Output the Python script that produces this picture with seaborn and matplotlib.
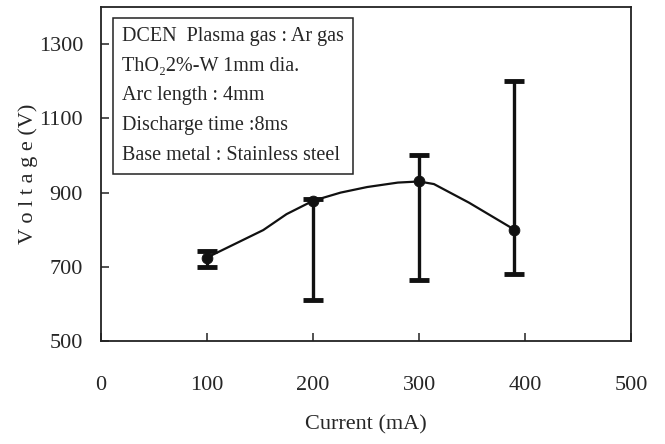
import matplotlib
matplotlib.use('Agg')
import matplotlib.pyplot as plt
import seaborn as sns
import pandas as pd

# 측정점 (평균, 최소, 최대)
current = [100, 200, 300, 390]
voltage = [725, 878, 930, 800]
v_low = [700, 610, 665, 680]
v_high = [742, 882, 1000, 1200]

# 곡선 (그림에서 읽은 평활선)
curve_x = [100, 153, 175, 200, 226, 251, 280, 300, 314, 347, 390]
curve_y = [725, 799, 842, 878, 900, 915, 927, 930, 923, 873, 800]

x_ticks = [0, 100, 200, 300, 400, 500]
y_ticks = [500, 700, 900, 1100, 1300]

notes = ['DCEN  Plasma gas : Ar gas',
         'ThO\u20822%-W 1mm dia.',
         'Arc length : 4mm',
         'Discharge time :8ms',
         'Base metal : Stainless steel']

sns.set_style('ticks')
plt.rcParams['font.family'] = ['Liberation Serif', 'DejaVu Serif']

df_pts = pd.DataFrame({'current': current, 'voltage': voltage})
df_curve = pd.DataFrame({'current': curve_x, 'voltage': curve_y})

fig = plt.figure(figsize=(6.65, 4.44), dpi=100)
ax = fig.add_axes([0.152, 0.232, 0.797, 0.752])

sns.lineplot(data=df_curve, x='current', y='voltage', color='#111111',
             lw=1.6, sort=False, ax=ax)

yerr = [[v - lo for v, lo in zip(voltage, v_low)],
        [hi - v for v, hi in zip(voltage, v_high)]]
ax.errorbar(current, voltage, yerr=yerr, fmt='none', ecolor='#111111',
            elinewidth=2.4, capsize=7, capthick=3.5)
sns.scatterplot(data=df_pts, x='current', y='voltage', color='#111111',
                s=60, marker='o', edgecolor='#111111', zorder=5, ax=ax)

ax.set_xlim(0, 500)
ax.set_ylim(500, 1400)
ax.set_xticks(x_ticks)
ax.set_yticks(y_ticks)
ax.tick_params(direction='in', length=6, width=1.1, color='#222222',
               labelsize=16)
ax.tick_params(axis='x', pad=25)
ax.tick_params(axis='y', pad=13)
for s in ax.spines.values():
    s.set_color('#222222')
    s.set_linewidth(1.3)

ax.set_xlabel('Current (mA)', fontsize=16, labelpad=15)
ax.set_ylabel('V o l t a g e (V)', fontsize=16, labelpad=0.5)

ax.text(0.04, 0.94, '\n'.join(notes), transform=ax.transAxes,
        fontsize=14.5, va='top', ha='left', linespacing=1.76,
        bbox=dict(boxstyle='square,pad=0.45', fc='white', ec='#222222', lw=1.1))

fig.savefig('out.png', dpi=100)
